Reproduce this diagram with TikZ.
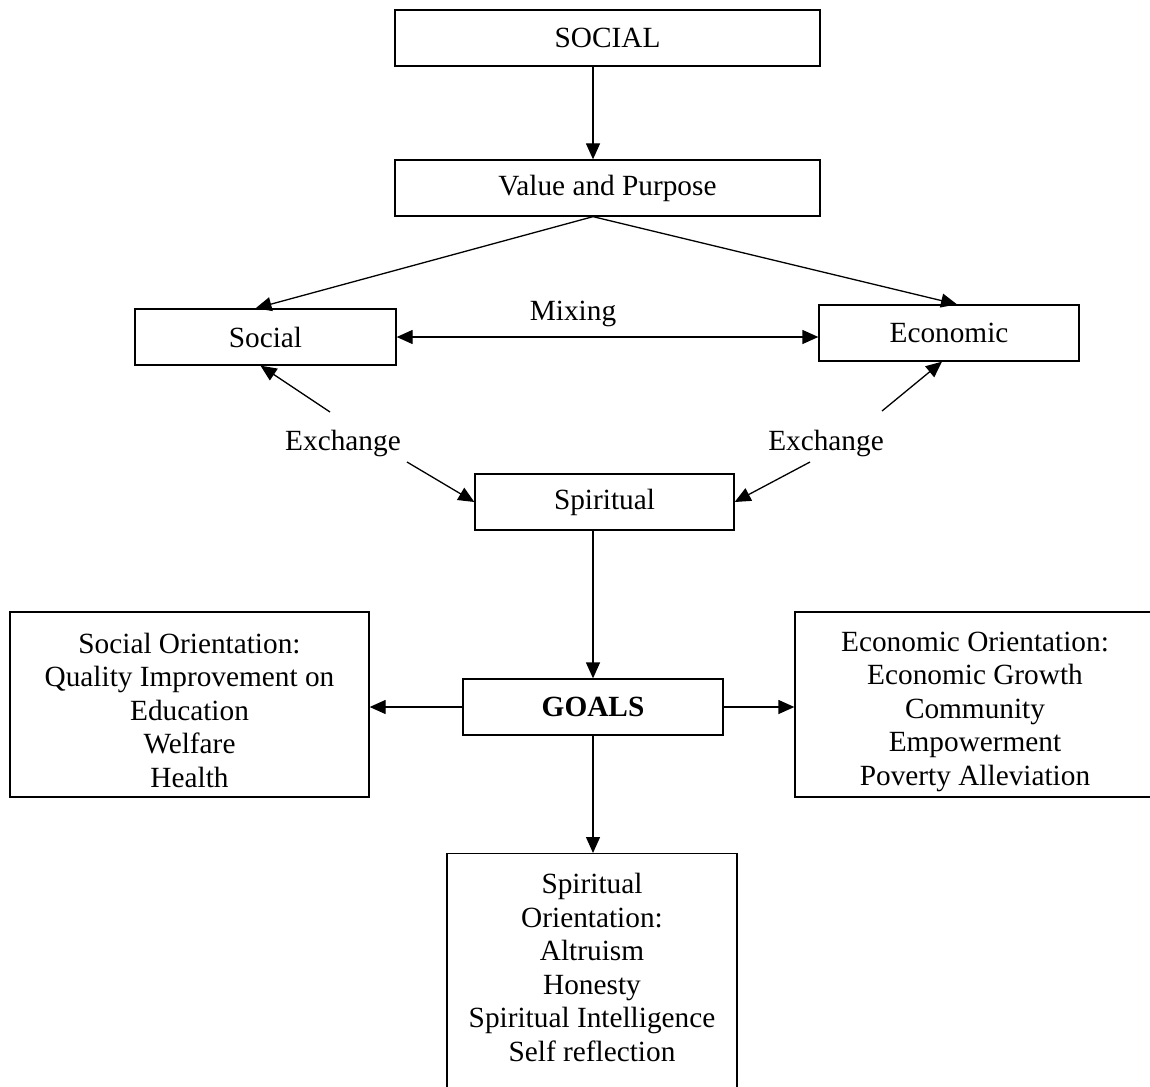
\documentclass[tikz,border=0pt]{standalone}
\usepackage{fontspec}
\setmainfont{Liberation Serif}
\usetikzlibrary{arrows.meta}

\begin{document}
\begin{tikzpicture}[x=1pt, y=-1pt,
  font=\fontsize{29.3}{33.5}\selectfont,
  box/.style={draw, line width=1.3pt, inner sep=0pt, align=center},
  arr/.style={line width=1.3pt, -{Triangle[length=16pt,width=14pt]}},
  biarr/.style={line width=1.3pt, {Triangle[length=16pt,width=14pt]}-{Triangle[length=16pt,width=14pt]}}]
  \useasboundingbox (0,0) rectangle (1150,1086);
  \clip (0,0) rectangle (1150,1086);
  % boxes
  \node[box, minimum width=425, minimum height=56] (top) at (607.5,38) {SOCIAL};
  \node[box, minimum width=425, minimum height=56] (value) at (607.5,188) {Value and Purpose};
  \node[box, minimum width=261, minimum height=56] (social) at (265.5,337) {Social};
  \node[box, minimum width=260, minimum height=56] (econ) at (949,333) {Economic};
  \node[box, minimum width=259, minimum height=56] (spirit) at (604.5,502) {Spiritual};
  \node[box, minimum width=260, minimum height=56] (goals) at (593,707) {\bfseries GOALS};
  \node[box, minimum width=359, minimum height=185] (socor) at (189.5,704.5)
    {\rule{0pt}{32pt}Social Orientation:\\ Quality Improvement on\\ Education\\ Welfare\\ Health};
  \node[box, minimum width=360, minimum height=185] (ecoor) at (975,704.5)
    {\rule{0pt}{34pt}Economic Orientation:\\ Economic Growth\\ Community\\ Empowerment\\ Poverty Alleviation};
  \node[box, minimum width=290, inner ysep=20pt, anchor=north] (spior) at (592,853)
    {\parbox[t][260pt][t]{280pt}{\centering Spiritual\\ Orientation:\\ Altruism\\ Honesty\\ Spiritual Intelligence\\ Self reflection}};
  % labels
  \node (mix) at (573,314) {Mixing};
  \node (exl) at (343,443) {Exchange};
  \node (exr) at (826,443) {Exchange};
  \coordinate (exl1) at (330,412);
  \coordinate (exl2) at (407,462);
  \coordinate (exr1) at (882,411);
  \coordinate (exr2) at (810,462);
  % arrows
  \draw[arr] (top.south -| goals) -- (value.north -| goals);
  \draw[arr] (value.south -| goals) -- ([xshift=-10pt]social.north);
  \draw[arr] (value.south -| goals) -- ([xshift=8pt]econ.north);
  \draw[biarr] (social.east) -- (social.east -| econ.west);
  \draw[arr] (exl1) -- ([xshift=-5pt]social.south);
  \draw[arr] (exl2) -- (spirit.west);
  \draw[arr] (exr1) -- ([xshift=-7pt]econ.south);
  \draw[arr] (exr2) -- (spirit.east);
  \draw[arr] (spirit.south -| goals) -- (goals.north);
  \draw[arr] (goals.west) -- (goals.west -| socor.east);
  \draw[arr] (goals.east) -- (goals.east -| ecoor.west);
  \draw[arr] (goals.south) -- (spior.north -| goals);
\end{tikzpicture}
\end{document}
